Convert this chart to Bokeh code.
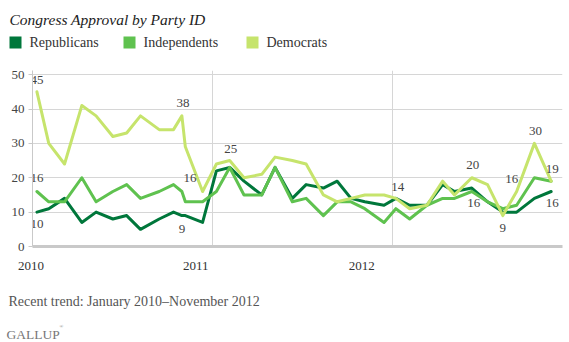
import pandas as pd
from bokeh.plotting import figure
from bokeh.layouts import column
from bokeh.models import Range1d, FixedTicker
from bokeh.embed import file_html
from bokeh.resources import INLINE

# ---------------- data ----------------
poll_dates = [
    "2010-01-10", "2010-02-03", "2010-03-07", "2010-04-11", "2010-05-10", "2010-06-13",
    "2010-07-11", "2010-08-08", "2010-09-15", "2010-10-14", "2010-10-31", "2010-11-07",
    "2010-12-12",
    "2011-01-09", "2011-02-05", "2011-03-06", "2011-04-11", "2011-05-08", "2011-06-12",
    "2011-07-10", "2011-08-14", "2011-09-11", "2011-10-09", "2011-11-06", "2011-12-15",
    "2012-01-08", "2012-02-05", "2012-03-11", "2012-04-12", "2012-05-06", "2012-06-10",
    "2012-07-12", "2012-08-12", "2012-09-09", "2012-10-15", "2012-11-18",
]
republicans = [10, 11, 14, 7, 10, 8, 9, 5, 8, 10, 9, 9, 7,
               22, 23, 19, 15, 23, 14, 18, 17, 19, 14, 13, 12,
               14, 12, 12, 18, 16, 17, 13, 10, 10, 14, 16]
independents = [16, 13, 13, 20, 13, 16, 18, 14, 16, 18, 16, 13, 13,
                16, 23, 15, 15, 23, 13, 14, 9, 13, 13, 11, 7,
                11, 8, 12, 14, 14, 16, 13, 11, 12, 20, 19]
democrats = [45, 30, 24, 41, 38, 32, 33, 38, 34, 34, 38, 29, 16,
             24, 25, 20, 21, 26, 25, 24, 15, 13, 14, 15, 15,
             14, 11, 12, 19, 15, 20, 18, 9, 16, 30, 19]

series_names = ["Republicans", "Independents", "Democrats"]
y_ticks = [0, 10, 20, 30, 40, 50]
year_ticks = ["2010-01-01", "2011-01-01", "2012-01-01"]
year_labels = ["2010", "2011", "2012"]
title_text = "Congress Approval by Party ID"
footer_text = "Recent trend: January 2010\u2013November 2012"
brand_text = "GALLUP"

# points whose values are printed on the chart: (series, index)
labelled_points = [
    ("Democrats", 0), ("Independents", 0), ("Republicans", 0),
    ("Democrats", 10), ("Independents", 10), ("Republicans", 10),
    ("Democrats", 14), ("Democrats", 25),
    ("Democrats", 30), ("Independents", 30),
    ("Democrats", 32), ("Democrats", 33), ("Democrats", 34),
    ("Democrats", 35), ("Republicans", 35),
]

# ---------------- styling / layout ----------------
colors = {"Republicans": "#00773b", "Independents": "#5fc24f", "Democrats": "#c6e46c"}
values = {"Republicans": republicans, "Independents": independents, "Democrats": democrats}
SERIF = "Liberation Serif"
GRID = "#d6d6d6"
AXIS = "#c9c9c9"
W = 569
TOP_H, FRAME_H, BOTTOM_GAP = 60, 176, 8
PAD_TOP = 10
LEFT, RIGHT = 32, 7
MAIN_H = PAD_TOP + FRAME_H + BOTTOM_GAP
FOOT_H = 342 - TOP_H - MAIN_H
LEGEND_X = [9, 123, 246]        # left edge of each legend swatch (px)
SWATCH = 12

# label offsets (screen px: dx right, dy down), same order as labelled_points
label_offsets = [(0, -12), (0, -14), (0, 12),
                 (1, -13), (8, -14), (0, 13),
                 (1, -12), (2, -11),
                 (1, -13), (2, 11),
                 (0, 12), (-5, -13), (1, -12),
                 (1, -12), (1, 11)]
# the original's year labels sit left of their gridlines
year_label_shift_days = [-3, -34, -62]


def ms(d):
    return pd.Timestamp(d).value / 1e6


def blank_figure(h, xr, yr):
    f = figure(width=W, height=h, x_range=xr, y_range=yr,
               x_axis_location=None, y_axis_location=None,
               output_backend="svg", toolbar_location=None, min_border=0)
    f.min_border_left = f.min_border_right = f.min_border_top = f.min_border_bottom = 0
    f.frame_align = False
    f.grid.visible = False
    f.outline_line_color = None
    f.border_fill_color = "white"
    f.background_fill_color = "white"
    return f


x = pd.to_datetime(poll_dates)
x_ms = [ms(d) for d in poll_dates]
X0, X1 = ms("2010-01-01"), ms("2012-12-11")
k = (X1 - X0) / (W - LEFT - RIGHT)  # ms per pixel

# ---------------- header: title + legend ----------------
top = blank_figure(TOP_H, Range1d(0, W), Range1d(TOP_H, 0))
top.text(x=[9], y=[19], text=[title_text], text_font={"value": SERIF},
         text_font_style="italic", text_font_size="15.5px", text_color="#222222",
         text_baseline="alphabetic")
top.quad(left=LEGEND_X, right=[v + SWATCH for v in LEGEND_X],
         top=[36] * 3, bottom=[36 + SWATCH] * 3,
         fill_color=[colors[n] for n in series_names], line_color=None)
top.text(x=[v + SWATCH + 8 for v in LEGEND_X], y=[42] * 3, text=series_names,
         text_font={"value": SERIF}, text_font_size="14px", text_color="#333333",
         text_baseline="middle")

# ---------------- main chart ----------------
p = figure(width=W, height=MAIN_H, x_axis_type="datetime",
           x_range=Range1d(X0, X1), y_range=Range1d(0, 51.2),
           output_backend="svg", toolbar_location=None,
           min_border_left=LEFT, min_border_right=RIGHT,
           min_border_top=PAD_TOP, min_border_bottom=BOTTOM_GAP)
p.frame_align = False
p.outline_line_color = None
p.background_fill_color = "white"
p.border_fill_color = "white"

p.yaxis.ticker = FixedTicker(ticks=y_ticks)
p.yaxis.axis_line_color = AXIS
p.yaxis.major_tick_line_color = AXIS
p.yaxis.major_tick_out = 4
p.yaxis.major_tick_in = 0
p.yaxis.minor_tick_line_color = None
p.yaxis.major_label_standoff = 4
p.yaxis.major_label_text_font = SERIF
p.yaxis.major_label_text_font_size = "13px"
p.yaxis.major_label_text_color = "#444444"

year_ms = [ms(d) for d in year_ticks]
p.xaxis.ticker = FixedTicker(ticks=year_ms)
p.xaxis.axis_line_color = AXIS
p.xaxis.axis_line_width = 3
p.xaxis.major_tick_line_color = None
p.xaxis.minor_tick_line_color = None
p.xaxis.major_label_overrides = {v: "" for v in year_ms}
p.xaxis.major_label_standoff = 0

p.xgrid.ticker = FixedTicker(ticks=year_ms)
p.xgrid.grid_line_color = GRID
p.ygrid.ticker = FixedTicker(ticks=y_ticks[1:])
p.ygrid.grid_line_color = GRID

for name in series_names:
    p.line(x, values[name], line_color=colors[name], line_width=3,
           line_join="round", line_cap="round")

lx = [x_ms[i] for _, i in labelled_points]
ly = [values[n][i] for n, i in labelled_points]
p.text(x=lx, y=ly, text=[str(v) for v in ly],
       x_offset=[o[0] for o in label_offsets], y_offset=[o[1] for o in label_offsets],
       text_align="center", text_baseline="middle", text_font={"value": SERIF},
       text_font_size="13px", text_color="#444444")

# ---------------- footer: year labels, note, brand ----------------
x_left = X0 - LEFT * k
foot = blank_figure(FOOT_H, Range1d(x_left, X1 + RIGHT * k), Range1d(FOOT_H, 0))
yl_x = [ms(pd.Timestamp(d) + pd.Timedelta(days=s)) for d, s in zip(year_ticks, year_label_shift_days)]
foot.text(x=yl_x, y=[11] * 3, text=year_labels, text_align="center", text_baseline="middle",
          text_font={"value": SERIF}, text_font_size="13px", text_color="#333333")
foot.text(x=[x_left + 8 * k], y=[47], text=[footer_text], text_baseline="alphabetic",
          text_font={"value": SERIF}, text_font_size="14px", text_color="#555555")
foot.text(x=[x_left + 6 * k], y=[80], text=[brand_text], text_baseline="alphabetic",
          text_font={"value": SERIF}, text_font_size="13.5px", text_color="#777777")
foot.text(x=[x_left + 59 * k], y=[72], text=["\u00ae"], text_baseline="alphabetic",
          text_font={"value": SERIF}, text_font_size="5px", text_color="#777777")

layout = column(top, p, foot, spacing=0)
open("out.html", "w").write(file_html(layout, INLINE))
